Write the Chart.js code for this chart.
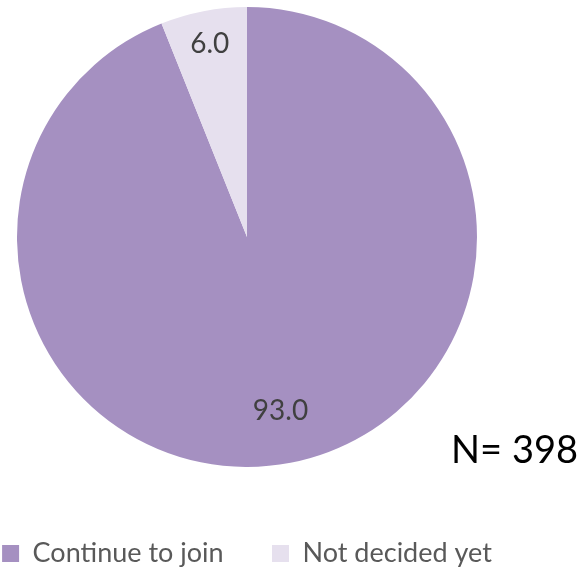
<!DOCTYPE html>
<html>
<head>
<meta charset="utf-8">
<script src="https://cdn.jsdelivr.net/npm/chart.js@4"></script>
<style>
  html, body { margin: 0; padding: 0; background: #fff; }
  #wrap { width: 582px; height: 577px; position: relative; }
</style>
</head>
<body>
<div id="wrap"><canvas id="pie"></canvas></div>
<script>
const categories = ["Continue to join", "Not decided yet"];
const shares = [93.0, 6.0];
const sliceColors = ["#A590C1", "#E6E0EE"];
const sampleNote = "N= 398";

const FONT = "Lato, 'Open Sans', sans-serif";

// value labels inside the slices + the N note
const sliceLabels = {
  id: "sliceLabels",
  afterDatasetsDraw(chart) {
    const { ctx } = chart;
    const meta = chart.getDatasetMeta(0);
    ctx.save();
    ctx.font = "28px " + FONT;
    ctx.fillStyle = "#404040";
    ctx.textAlign = "center";
    ctx.textBaseline = "middle";
    meta.data.forEach((arc, i) => {
      const { x, y, startAngle, endAngle, outerRadius } = arc.getProps(["x", "y", "startAngle", "endAngle", "outerRadius"], true);
      const mid = (startAngle + endAngle) / 2;
      const r = outerRadius * (i === 0 ? 0.77 : 0.855);
      ctx.fillText(shares[i].toFixed(1), x + Math.cos(mid) * r, y + Math.sin(mid) * r);
    });
    ctx.font = "38px " + FONT;
    ctx.fillStyle = "#000";
    ctx.textAlign = "right";
    ctx.fillText(sampleNote, 578, 451);
    ctx.restore();
  }
};

new Chart(document.getElementById("pie").getContext("2d"), {
  type: "pie",
  data: {
    labels: categories,
    datasets: [{
      data: shares,
      backgroundColor: sliceColors,
      borderWidth: 0,
      radius: 230
    }]
  },
  options: {
    responsive: true,
    maintainAspectRatio: false,
    animation: false,
    layout: { padding: { top: 0, bottom: 0, left: 0, right: 88 } },
    plugins: {
      tooltip: { enabled: false },
      legend: {
        position: "bottom",
        // empty title only reserves space above the items
        title: { display: true, text: " ", padding: { top: 0, bottom: 51.6 } },
        labels: {
          boxWidth: 17,
          boxHeight: 17,
          padding: 0,
          color: "#595959",
          font: { size: 27, family: FONT },
          generateLabels(chart) {
            const items = Chart.overrides.pie.plugins.legend.labels.generateLabels(chart);
            // trailing spaces give the gap between the two entries
            items[0].text += "       ";
            return items;
          }
        }
      }
    }
  },
  plugins: [sliceLabels]
});
</script>
</body>
</html>
